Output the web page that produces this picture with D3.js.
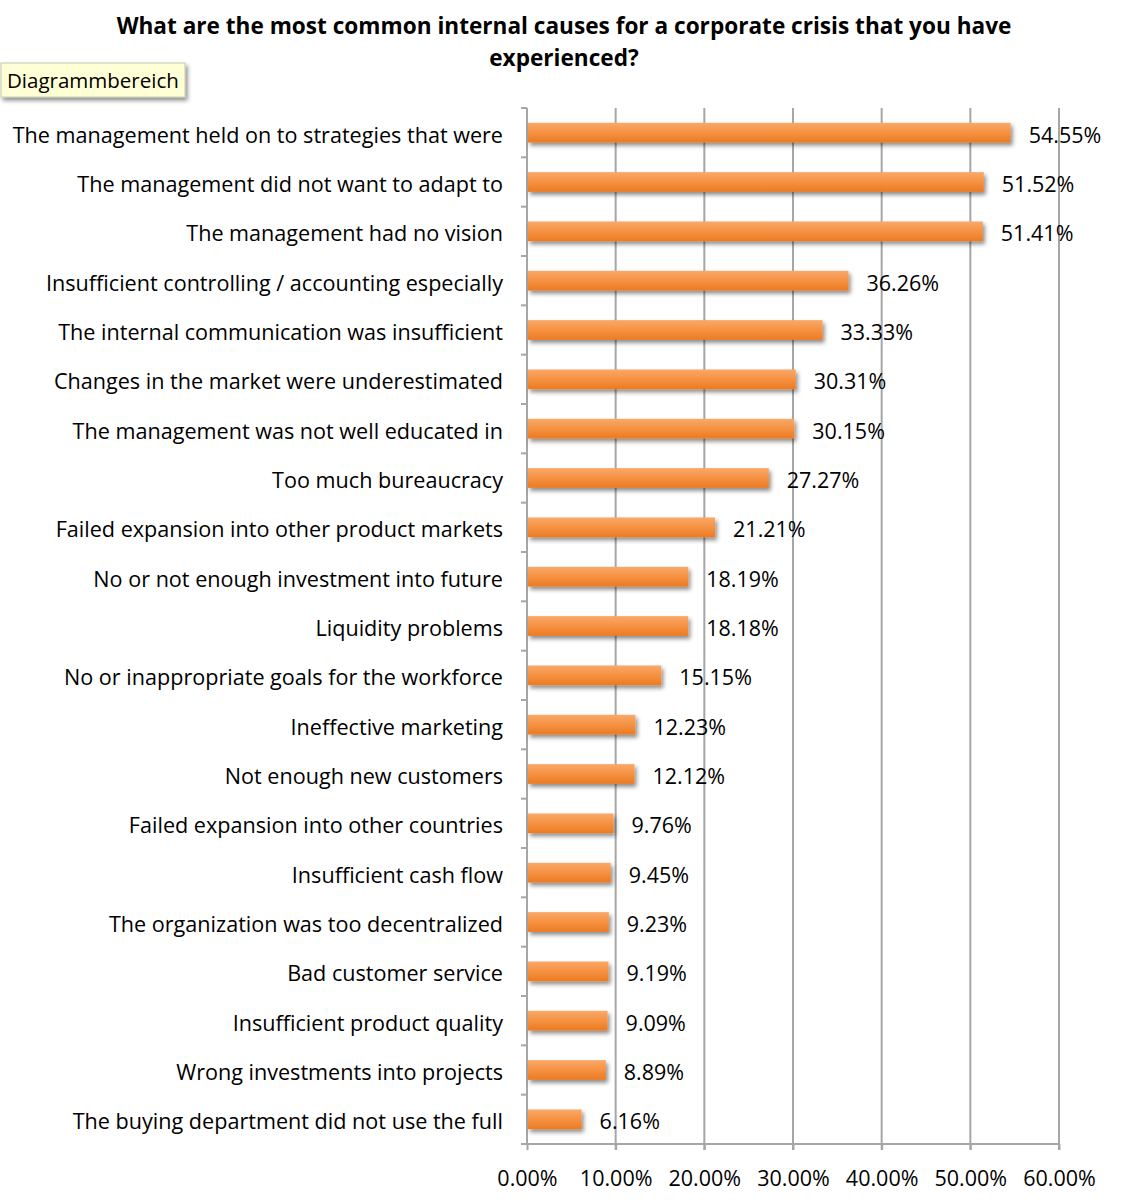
<!DOCTYPE html>
<html>
<head>
<meta charset="utf-8">
<script src="https://cdn.jsdelivr.net/npm/d3@7/dist/d3.min.js"></script>
<style>
    body { margin: 0; background: #fff; }
    text { font-family: "Open Sans", Lato, sans-serif; }
</style>
</head>
<body>
<svg id="chart" width="1126" height="1204"></svg>
<script>
(function () {
    'use strict';

    // data
    var categories = [
        'The management held on to strategies that were',
        'The management did not want to adapt to',
        'The management had no vision',
        'Insufficient controlling / accounting especially',
        'The internal communication was insufficient',
        'Changes in the market were underestimated',
        'The management was not well educated in',
        'Too much bureaucracy',
        'Failed expansion into other product markets',
        'No or not enough investment into future',
        'Liquidity problems',
        'No or inappropriate goals for the workforce',
        'Ineffective marketing',
        'Not enough new customers',
        'Failed expansion into other countries',
        'Insufficient cash flow',
        'The organization was too decentralized',
        'Bad customer service',
        'Insufficient product quality',
        'Wrong investments into projects',
        'The buying department did not use the full'
    ];
    var values = [54.55, 51.52, 51.41, 36.26, 33.33, 30.31, 30.15, 27.27, 21.21, 18.19,
        18.18, 15.15, 12.23, 12.12, 9.76, 9.45, 9.23, 9.19, 9.09, 8.89, 6.16];
    var xTicks = [0, 10, 20, 30, 40, 50, 60];
    var titleLines = ['What are the most common internal causes for a corporate crisis that you have',
        'experienced?'];

    // layout
    var left = 527, right = 1059, top = 108, bottom = 1144;

    var svg = d3.select('#chart');
    var defs = svg.append('defs');

    var grad = defs.append('linearGradient')
        .attr('id', 'barGrad')
        .attr('x1', 0).attr('y1', 0).attr('x2', 0).attr('y2', 1);
    grad.append('stop').attr('offset', '0%').attr('stop-color', '#f9a86a');
    grad.append('stop').attr('offset', '45%').attr('stop-color', '#f69445');
    grad.append('stop').attr('offset', '100%').attr('stop-color', '#ec7a22');

    var shadow = defs.append('filter').attr('id', 'shadow')
        .attr('x', '-10%').attr('y', '-30%').attr('width', '130%').attr('height', '180%');
    shadow.append('feDropShadow')
        .attr('dx', 2).attr('dy', 3).attr('stdDeviation', 2)
        .attr('flood-color', '#000').attr('flood-opacity', 0.45);

    var x = d3.scaleLinear().domain([0, 60]).range([left, right]);
    var y = d3.scaleBand().domain(categories).range([top, bottom]).paddingInner(0.6).paddingOuter(0.3);
    var yb = d3.scaleBand().domain(categories).range([top, bottom]);

    // title
    svg.append('g').selectAll('text')
        .data(titleLines)
        .join('text')
        .attr('x', 564)
        .attr('y', function (d, i) { return 34 + i * 32; })
        .attr('text-anchor', 'middle')
        .attr('font-size', 22.6)
        .attr('font-weight', 'bold')
        .attr('fill', '#000')
        .text(function (d) { return d; });

    // gridlines
    svg.append('g').selectAll('line')
        .data(xTicks.slice(1))
        .join('line')
        .attr('x1', function (d) { return x(d); })
        .attr('x2', function (d) { return x(d); })
        .attr('y1', top)
        .attr('y2', bottom + 6)
        .attr('stroke', '#a6a6a6')
        .attr('stroke-width', 2);

    // x axis
    var xAxis = svg.append('g')
        .attr('transform', 'translate(0,' + bottom + ')')
        .call(d3.axisBottom(x).tickValues(xTicks).tickSize(6).tickSizeOuter(0)
            .tickFormat(function (d) { return d.toFixed(2) + '%'; }));
    xAxis.select('.domain').attr('stroke', '#a6a6a6').attr('stroke-width', 2)
        .attr('d', 'M' + (left - 6) + ',0H' + right);
    xAxis.selectAll('.tick line').attr('stroke', '#a6a6a6').attr('stroke-width', 2);
    xAxis.selectAll('.tick text')
        .attr('font-size', 21.5)
        .attr('fill', '#000')
        .attr('dy', 0)
        .attr('y', 42);

    // y axis
    var yAxis = svg.append('g');
    yAxis.append('line')
        .attr('x1', left).attr('x2', left)
        .attr('y1', top).attr('y2', bottom)
        .attr('stroke', '#a6a6a6').attr('stroke-width', 2);
    yAxis.selectAll('line.tk')
        .data(categories)
        .join('line')
        .attr('class', 'tk')
        .attr('x1', left - 6).attr('x2', left)
        .attr('y1', function (d) { return yb(d); })
        .attr('y2', function (d) { return yb(d); })
        .attr('stroke', '#a6a6a6').attr('stroke-width', 2);
    yAxis.selectAll('text')
        .data(categories)
        .join('text')
        .attr('x', 503)
        .attr('y', function (d) { return yb(d) + yb.bandwidth() / 2 + 10; })
        .attr('text-anchor', 'end')
        .attr('font-size', 21.6)
        .attr('fill', '#000')
        .text(function (d) { return d; });

    // bars
    svg.append('g').selectAll('rect')
        .data(values)
        .join('rect')
        .attr('x', x(0) + 1)
        .attr('y', function (d, i) { return y(categories[i]); })
        .attr('width', function (d) { return x(d) - x(0) - 1; })
        .attr('height', y.bandwidth())
        .attr('fill', 'url(#barGrad)')
        .attr('filter', 'url(#shadow)');

    // value labels
    svg.append('g').selectAll('text')
        .data(values)
        .join('text')
        .attr('x', function (d) { return x(d) + 18; })
        .attr('y', function (d, i) { return y(categories[i]) + y.bandwidth() / 2 + 10; })
        .attr('font-size', 21.5)
        .attr('fill', '#000')
        .text(function (d) { return d.toFixed(2) + '%'; });

    // hover tooltip
    var tip = svg.append('g').attr('transform', 'translate(1,63)');
    tip.append('rect')
        .attr('width', 184).attr('height', 34)
        .attr('fill', '#ffffd6')
        .attr('stroke', '#c8c8b0')
        .attr('filter', 'url(#shadow)');
    tip.append('text')
        .attr('x', 6).attr('y', 25)
        .attr('font-size', 20.5)
        .attr('fill', '#000')
        .text('Diagrammbereich');
}());
</script>
</body>
</html>
